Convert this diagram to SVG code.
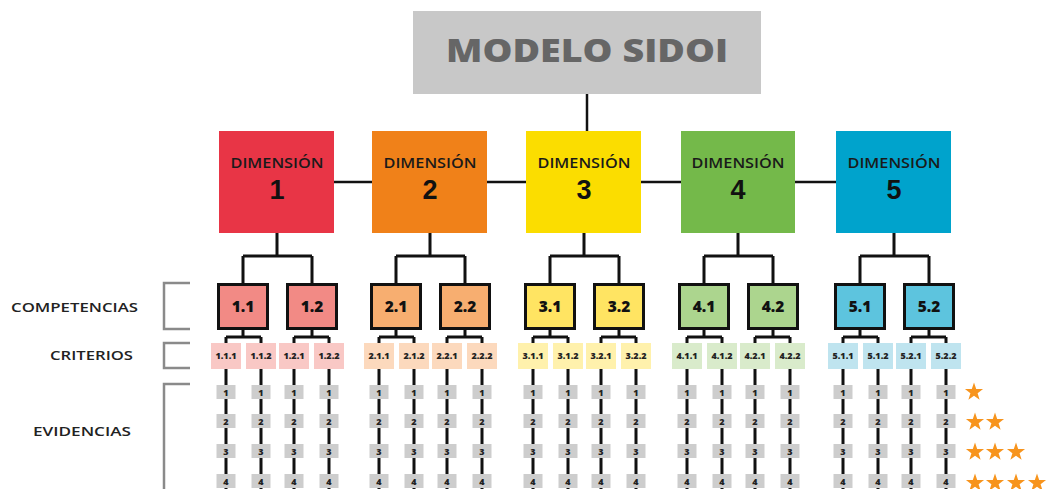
<svg xmlns="http://www.w3.org/2000/svg" xmlns:xlink="http://www.w3.org/1999/xlink" width="1048" height="489" viewBox="0 0 1048 489">
<style>
text{font-family:"Open Sans","Liberation Sans",sans-serif;font-weight:700;text-anchor:middle}
.ln{stroke:#111;stroke-width:3;fill:none}
.dl{stroke:#111;stroke-width:2.5;fill:none}
.br{stroke:#8a8a8a;stroke-width:2.5;fill:none}
.dimt{font-size:13.5px;fill:#1a1a1a;font-weight:600}
.dimn{font-family:"Liberation Sans",Arial,sans-serif;font-size:27px;fill:#111;font-weight:700}
.comp{stroke:#111;stroke-width:3}
.compt{font-size:15.5px;fill:#111;font-weight:800}
.crt{font-size:9px;fill:#222;font-weight:800}
.ev{fill:#cdcdcd}
.evt{font-size:9px;fill:#222;font-weight:800}
.lab{font-size:13px;fill:#222;font-weight:600;text-anchor:start}
.star{fill:#f7941d}
</style>
<defs>
<path id="star" d="M0,-9.5 L2.2,-3.05 L9.05,-2.95 L3.6,1.2 L5.6,7.7 L0,3.8 L-5.6,7.7 L-3.6,1.2 L-9.05,-2.95 L-2.2,-3.05Z"/>
</defs>
<rect width="1048" height="489" fill="#fff"/>

<g id="connectors">
<line class="dl" x1="587" y1="94" x2="587" y2="132"/>
<line class="dl" x1="334" y1="182" x2="836" y2="182"/>
<path class="ln" d="M277,233 V256 M243,256 H312 M243,256 V284 M312,256 V284"/>
<path class="ln" d="M430,233 V256 M396,256 H465 M396,256 V284 M465,256 V284"/>
<path class="ln" d="M584,233 V256 M550,256 H619 M550,256 V284 M619,256 V284"/>
<path class="ln" d="M738,233 V256 M704,256 H773 M704,256 V284 M773,256 V284"/>
<path class="ln" d="M894,233 V256 M860,256 H929 M860,256 V284 M929,256 V284"/>
<path class="ln" d="M243,330 V337 M226,337 H261 M226,337 V344 M261,337 V344 M312,330 V337 M294,337 H329 M294,337 V344 M329,337 V344"/>
<path class="ln" d="M396,330 V337 M379,337 H414 M379,337 V344 M414,337 V344 M465,330 V337 M447,337 H482 M447,337 V344 M482,337 V344"/>
<path class="ln" d="M550,330 V337 M533,337 H568 M533,337 V344 M568,337 V344 M619,330 V337 M601,337 H636 M601,337 V344 M636,337 V344"/>
<path class="ln" d="M704,330 V337 M687,337 H722 M687,337 V344 M722,337 V344 M773,330 V337 M755,337 H790 M755,337 V344 M790,337 V344"/>
<path class="ln" d="M860,330 V337 M843,337 H878 M843,337 V344 M878,337 V344 M929,330 V337 M911,337 H946 M911,337 V344 M946,337 V344"/>
<path class="ln" d="M226,369 V489 M261,369 V489 M294,369 V489 M329,369 V489 M379,369 V489 M414,369 V489 M447,369 V489 M482,369 V489 M533,369 V489 M568,369 V489 M601,369 V489 M636,369 V489 M687,369 V489 M722,369 V489 M755,369 V489 M790,369 V489 M843,369 V489 M878,369 V489 M911,369 V489 M946,369 V489"/>
</g>

<g id="title">
<rect x="413" y="11" width="348" height="83" fill="#c8c8c8"/>
<text x="587" y="62" style="font-size:31px;fill:#666;font-weight:800" textLength="282" lengthAdjust="spacingAndGlyphs">MODELO SIDOI</text>
</g>

<g id="labels">
<path class="br" d="M190,283 H164 V329 H190"/>
<path class="br" d="M190,343 H164 V368 H190"/>
<path class="br" d="M190,384 H164 V489"/>
<text class="lab" x="11" y="312" textLength="127" lengthAdjust="spacingAndGlyphs">COMPETENCIAS</text>
<text class="lab" x="50" y="360" textLength="83" lengthAdjust="spacingAndGlyphs">CRITERIOS</text>
<text class="lab" x="33" y="436" textLength="98" lengthAdjust="spacingAndGlyphs">EVIDENCIAS</text>
</g>

<g id="dim1">
<rect x="219" y="131" width="115" height="102" fill="#e83546"/>
<text class="dimt" x="277" y="168" textLength="93" lengthAdjust="spacingAndGlyphs">DIMENSIÓN</text>
<text class="dimn" x="277" y="199">1</text>
</g>
<g id="dim2">
<rect x="372" y="131" width="115" height="102" fill="#f08119"/>
<text class="dimt" x="430" y="168" textLength="93" lengthAdjust="spacingAndGlyphs">DIMENSIÓN</text>
<text class="dimn" x="430" y="199">2</text>
</g>
<g id="dim3">
<rect x="526" y="131" width="115" height="102" fill="#fbdd00"/>
<text class="dimt" x="584" y="168" textLength="93" lengthAdjust="spacingAndGlyphs">DIMENSIÓN</text>
<text class="dimn" x="584" y="199">3</text>
</g>
<g id="dim4">
<rect x="681" y="131" width="114" height="102" fill="#74b94a"/>
<text class="dimt" x="738" y="168" textLength="93" lengthAdjust="spacingAndGlyphs">DIMENSIÓN</text>
<text class="dimn" x="738" y="199">4</text>
</g>
<g id="dim5">
<rect x="836" y="131" width="115" height="102" fill="#00a3cc"/>
<text class="dimt" x="894" y="168" textLength="93" lengthAdjust="spacingAndGlyphs">DIMENSIÓN</text>
<text class="dimn" x="894" y="199">5</text>
</g>

<g id="competencias">
<g id="c11"><rect class="comp" x="218.5" y="284.5" width="49" height="44" fill="#f28a85"/><text class="compt" x="243" y="312">1.1</text></g>
<g id="c12"><rect class="comp" x="287.5" y="284.5" width="49" height="44" fill="#f28a85"/><text class="compt" x="312" y="312">1.2</text></g>
<g id="c21"><rect class="comp" x="371.5" y="284.5" width="49" height="44" fill="#f7ae70"/><text class="compt" x="396" y="312">2.1</text></g>
<g id="c22"><rect class="comp" x="440.5" y="284.5" width="49" height="44" fill="#f7ae70"/><text class="compt" x="465" y="312">2.2</text></g>
<g id="c31"><rect class="comp" x="525.5" y="284.5" width="49" height="44" fill="#ffe462"/><text class="compt" x="550" y="312">3.1</text></g>
<g id="c32"><rect class="comp" x="594.5" y="284.5" width="49" height="44" fill="#ffe462"/><text class="compt" x="619" y="312">3.2</text></g>
<g id="c41"><rect class="comp" x="679.5" y="284.5" width="49" height="44" fill="#acd58e"/><text class="compt" x="704" y="312">4.1</text></g>
<g id="c42"><rect class="comp" x="748.5" y="284.5" width="49" height="44" fill="#acd58e"/><text class="compt" x="773" y="312">4.2</text></g>
<g id="c51"><rect class="comp" x="835.5" y="284.5" width="49" height="44" fill="#5dc4de"/><text class="compt" x="860" y="312">5.1</text></g>
<g id="c52"><rect class="comp" x="904.5" y="284.5" width="49" height="44" fill="#5dc4de"/><text class="compt" x="929" y="312">5.2</text></g>
</g>

<g id="criterios">
<g fill="#f9c8c5">
<rect x="211" y="343" width="30" height="26"/><rect x="246" y="343" width="30" height="26"/><rect x="279" y="343" width="30" height="26"/><rect x="314" y="343" width="30" height="26"/>
</g>
<g fill="#fcd9bd">
<rect x="364" y="343" width="30" height="26"/><rect x="399" y="343" width="30" height="26"/><rect x="432" y="343" width="30" height="26"/><rect x="467" y="343" width="30" height="26"/>
</g>
<g fill="#fff1ac">
<rect x="518" y="343" width="30" height="26"/><rect x="553" y="343" width="30" height="26"/><rect x="586" y="343" width="30" height="26"/><rect x="621" y="343" width="30" height="26"/>
</g>
<g fill="#d9ebcb">
<rect x="672" y="343" width="30" height="26"/><rect x="707" y="343" width="30" height="26"/><rect x="740" y="343" width="30" height="26"/><rect x="775" y="343" width="30" height="26"/>
</g>
<g fill="#bfe4ef">
<rect x="828" y="343" width="30" height="26"/><rect x="863" y="343" width="30" height="26"/><rect x="896" y="343" width="30" height="26"/><rect x="931" y="343" width="30" height="26"/>
</g>
<g>
<text class="crt" x="226" y="359">1.1.1</text><text class="crt" x="261" y="359">1.1.2</text><text class="crt" x="294" y="359">1.2.1</text><text class="crt" x="329" y="359">1.2.2</text>
<text class="crt" x="379" y="359">2.1.1</text><text class="crt" x="414" y="359">2.1.2</text><text class="crt" x="447" y="359">2.2.1</text><text class="crt" x="482" y="359">2.2.2</text>
<text class="crt" x="533" y="359">3.1.1</text><text class="crt" x="568" y="359">3.1.2</text><text class="crt" x="601" y="359">3.2.1</text><text class="crt" x="636" y="359">3.2.2</text>
<text class="crt" x="687" y="359">4.1.1</text><text class="crt" x="722" y="359">4.1.2</text><text class="crt" x="755" y="359">4.2.1</text><text class="crt" x="790" y="359">4.2.2</text>
<text class="crt" x="843" y="359">5.1.1</text><text class="crt" x="878" y="359">5.1.2</text><text class="crt" x="911" y="359">5.2.1</text><text class="crt" x="946" y="359">5.2.2</text>
</g>
</g>

<defs>
<g id="evcol">
<rect class="ev" x="-9.5" y="385" width="19" height="14"/>
<rect class="ev" x="-9.5" y="414" width="19" height="14"/>
<rect class="ev" x="-9.5" y="444" width="19" height="14"/>
<rect class="ev" x="-9.5" y="474" width="19" height="14"/>
<text class="evt" x="0" y="395.5">1</text>
<text class="evt" x="0" y="424.5">2</text>
<text class="evt" x="0" y="454.5">3</text>
<text class="evt" x="0" y="484.5">4</text>
</g>
</defs>
<g id="evidencias">
<use xlink:href="#evcol" x="226"/><use xlink:href="#evcol" x="261"/><use xlink:href="#evcol" x="294"/><use xlink:href="#evcol" x="329"/>
<use xlink:href="#evcol" x="379"/><use xlink:href="#evcol" x="414"/><use xlink:href="#evcol" x="447"/><use xlink:href="#evcol" x="482"/>
<use xlink:href="#evcol" x="533"/><use xlink:href="#evcol" x="568"/><use xlink:href="#evcol" x="601"/><use xlink:href="#evcol" x="636"/>
<use xlink:href="#evcol" x="687"/><use xlink:href="#evcol" x="722"/><use xlink:href="#evcol" x="755"/><use xlink:href="#evcol" x="790"/>
<use xlink:href="#evcol" x="843"/><use xlink:href="#evcol" x="878"/><use xlink:href="#evcol" x="911"/><use xlink:href="#evcol" x="946"/>
</g>

<g id="stars" class="star">
<use xlink:href="#star" x="974" y="392"/>
<use xlink:href="#star" x="975" y="422"/><use xlink:href="#star" x="995" y="422"/>
<use xlink:href="#star" x="975" y="452"/><use xlink:href="#star" x="995" y="452"/><use xlink:href="#star" x="1016" y="452"/>
<use xlink:href="#star" x="975" y="483"/><use xlink:href="#star" x="995" y="483"/><use xlink:href="#star" x="1016" y="483"/><use xlink:href="#star" x="1037" y="483"/>
</g>
</svg>
